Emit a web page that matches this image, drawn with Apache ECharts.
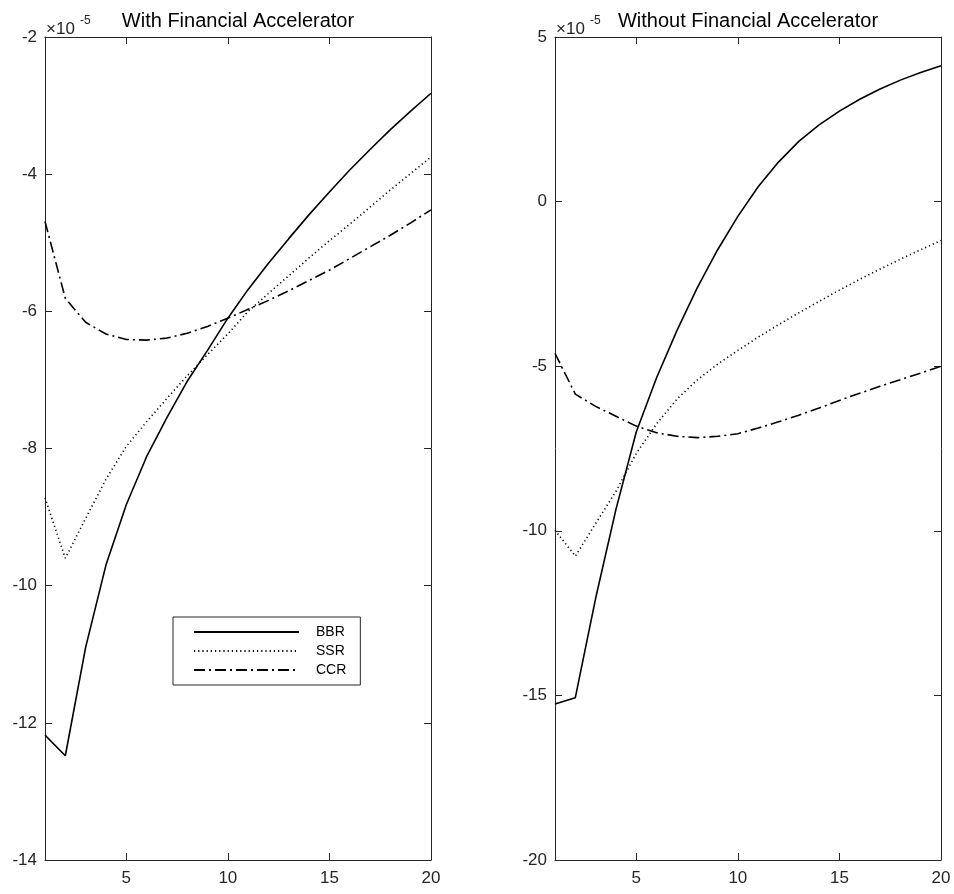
<!DOCTYPE html>
<html>
<head>
<meta charset="utf-8">
<title>Financial Accelerator</title>
<script src="https://cdn.jsdelivr.net/npm/echarts@6/dist/echarts.min.js"></script>
<style>
html,body{margin:0;padding:0;background:#fff;}
#main{width:954px;height:894px;}
</style>
</head>
<body>
<div id="main"></div>
<script>
// 数据 (x10^-5)
var periods = [1,2,3,4,5,6,7,8,9,10,11,12,13,14,15,16,17,18,19,20];
var xTickValues = [5, 10, 15, 20];

var bbrWith = [-12.18,-12.48,-10.90,-9.70,-8.82,-8.12,-7.55,-7.02,-6.57,-6.10,-5.68,-5.30,-4.94,-4.59,-4.26,-3.94,-3.64,-3.35,-3.08,-2.82];
var ssrWith = [-8.72,-9.60,-9.02,-8.45,-7.97,-7.61,-7.27,-6.94,-6.63,-6.33,-6.00,-5.74,-5.48,-5.22,-4.97,-4.73,-4.48,-4.23,-3.99,-3.75];
var ccrWith = [-4.69,-5.81,-6.16,-6.33,-6.41,-6.42,-6.39,-6.32,-6.22,-6.10,-5.97,-5.84,-5.70,-5.55,-5.40,-5.23,-5.06,-4.89,-4.71,-4.52];

var bbrWithout = [-15.26,-15.07,-12.05,-9.35,-7.00,-5.35,-3.92,-2.62,-1.47,-0.45,0.45,1.20,1.83,2.33,2.75,3.11,3.42,3.69,3.92,4.13];
var ssrWithout = [-9.98,-10.77,-9.78,-8.80,-7.65,-6.75,-6.00,-5.42,-4.94,-4.52,-4.12,-3.74,-3.38,-3.03,-2.69,-2.36,-2.05,-1.75,-1.46,-1.18];
var ccrWithout = [-4.61,-5.85,-6.22,-6.52,-6.82,-7.02,-7.13,-7.17,-7.13,-7.05,-6.88,-6.69,-6.49,-6.27,-6.04,-5.82,-5.61,-5.41,-5.21,-5.00];

var titles = ['With Financial Accelerator', 'Without Financial Accelerator'];
var seriesNames = ['BBR', 'SSR', 'CCR'];

var FONT = '"Liberation Sans", Arial, Helvetica, sans-serif';
var AXIS_COLOR = '#262626';

function pairs(ys) {
	return periods.map(function (p, i) { return [p, ys[i]]; });
}

// 线型
var lineTypes = {
	BBR: 'solid',
	SSR: [1.2, 3],
	CCR: [11, 4, 2, 4]
};

function makeSeries(name, ys, idx) {
	return {
		name: name,
		type: 'line',
		xAxisIndex: idx * 2,
		yAxisIndex: idx * 2,
		data: pairs(ys),
		color: '#000',
		symbol: 'none',
		showSymbol: false,
		silent: true,
		animation: false,
		itemStyle: { color: '#000', opacity: 0 },
		lineStyle: { color: '#000', width: 1.6, type: lineTypes[name] }
	};
}

function xAx(gridIndex, pos) {
	var main = pos === 'bottom';
	return {
		type: 'value',
		gridIndex: gridIndex,
		position: pos,
		min: 1,
		max: 20,
		axisLine: { show: true, onZero: false, lineStyle: { color: AXIS_COLOR, width: 1 } },
		axisTick: { show: true, inside: true, length: 7, customValues: xTickValues, lineStyle: { color: AXIS_COLOR } },
		axisLabel: { show: main, customValues: xTickValues, margin: 10, color: AXIS_COLOR, fontSize: 17, fontFamily: FONT },
		splitLine: { show: false }
	};
}

function yAx(gridIndex, pos, min, max, interval) {
	var main = pos === 'left';
	return {
		type: 'value',
		gridIndex: gridIndex,
		position: pos,
		min: min,
		max: max,
		interval: interval,
		axisLine: { show: true, onZero: false, lineStyle: { color: AXIS_COLOR, width: 1 } },
		axisTick: { show: true, inside: true, length: 7, lineStyle: { color: AXIS_COLOR } },
		axisLabel: { show: main, margin: 8, color: AXIS_COLOR, fontSize: 17, fontFamily: FONT },
		splitLine: { show: false }
	};
}

var panels = [
	{ left: 45, data: [bbrWith, ssrWith, ccrWith] },
	{ left: 555, data: [bbrWithout, ssrWithout, ccrWithout] }
];

var series = [];
panels.forEach(function (p, idx) {
	seriesNames.forEach(function (n, k) {
		series.push(makeSeries(n, p.data[k], idx));
	});
});

var graphics = [];
panels.forEach(function (p, idx) {
	graphics.push({
		type: 'text', x: p.left + 193, y: 21, silent: true,
		style: { text: titles[idx], font: '20px ' + FONT, fill: '#000', textAlign: 'center', textVerticalAlign: 'middle' }
	});
	graphics.push({
		type: 'text', x: p.left + 1, y: 29, silent: true,
		style: { text: '\u00d710', font: '17px ' + FONT, fill: AXIS_COLOR, textAlign: 'left', textVerticalAlign: 'middle' }
	});
	graphics.push({
		type: 'text', x: p.left + 35, y: 21, silent: true,
		style: { text: '-5', font: '12px ' + FONT, fill: AXIS_COLOR, textAlign: 'left', textVerticalAlign: 'middle' }
	});
});

var myChart = echarts.init(document.getElementById('main'), null, { renderer: 'canvas' });
var option = {
	backgroundColor: '#fff',
	animation: false,
	color: ['#000'],
	grid: [
		{ left: 45, top: 37, width: 386, height: 823, containLabel: false },
		{ left: 555, top: 37, width: 386, height: 823, containLabel: false }
	],
	xAxis: [xAx(0, 'bottom'), xAx(0, 'top'), xAx(1, 'bottom'), xAx(1, 'top')],
	yAxis: [
		yAx(0, 'left', -14, -2, 2), yAx(0, 'right', -14, -2, 2),
		yAx(1, 'left', -20, 5, 5), yAx(1, 'right', -20, 5, 5)
	],
	legend: {
		data: seriesNames,
		orient: 'vertical',
		left: 173,
		top: 617,
		itemWidth: 105,
		itemHeight: 14,
		itemGap: 5,
		padding: [8, 14, 8, 20],
		borderColor: AXIS_COLOR,
		borderWidth: 1,
		backgroundColor: '#fff',
		selectedMode: false,
		itemStyle: { opacity: 0 },
		textStyle: { color: '#000', fontSize: 14, fontFamily: FONT, padding: [0, 0, 0, 12] }
	},
	graphic: graphics,
	series: series
};
myChart.setOption(option);
</script>
</body>
</html>
